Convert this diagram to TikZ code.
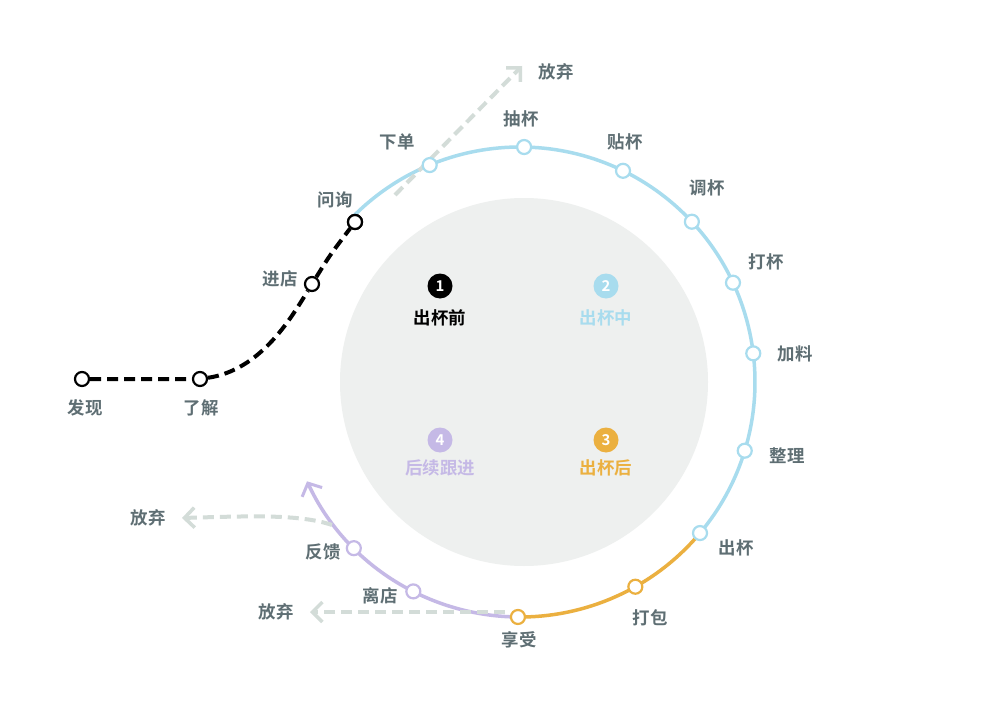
\documentclass[tikz,border=0pt]{standalone}
\usepackage{fontspec}
\setmainfont{Noto Sans CJK SC Bold}
\usetikzlibrary{arrows.meta}
\definecolor{cblue}{HTML}{A8DCEE}
\definecolor{corange}{HTML}{EBB040}
\definecolor{cpurple}{HTML}{C5B9E6}
\definecolor{cgray}{HTML}{D3DCD8}
\definecolor{cinner}{HTML}{EEF0EF}
\definecolor{ctext}{HTML}{5E6E73}
\begin{document}
\begin{tikzpicture}[x=1bp,y=-1bp,
  lbl/.style={text=ctext,font=\fontsize{17.5}{17.5}\selectfont,inner sep=1pt},
  stop/.style={circle,draw=#1,line width=2.2bp,fill=white,minimum size=14bp,inner sep=0pt},
  num/.style={circle,fill=#1,text=white,minimum size=25bp,inner sep=0pt,font=\fontsize{15}{15}\selectfont},
  quit/.style={cgray,line width=4bp,dash pattern=on 11bp off 6bp,-{Straight Barb[length=10bp,width=20bp,line width=3.5bp]}}]
\useasboundingbox (0,0) rectangle (1000,707);
\fill[white] (0,0) rectangle (1000,707);
\coordinate (C) at (520,382);
\fill[cinner] (524,382) circle (184);
% rings
\draw[cblue,line width=3.5bp] ([shift={(-136:235)}]C) arc[start angle=-136,end angle=40,radius=235];
\draw[corange,line width=3.5bp] ([shift={(40:235)}]C) arc[start angle=40,end angle=90,radius=235];
\draw[cpurple,line width=3.5bp,-{Straight Barb[length=10bp,width=22bp,line width=3bp]}] ([shift={(90:235)}]C) arc[start angle=90,end angle=155,radius=235];
% quit arrows
\coordinate (q1s) at (395,195); \coordinate (q1e) at (522,66);
\draw[quit] (q1s) -- (q1e);
\coordinate (q2s) at (332,525); \coordinate (q2e) at (182,518);
\draw[quit] (q2s) .. controls (300,514) and (250,516) .. (q2e);
\coordinate (q3s) at (505,612); \coordinate (q3e) at (310,612);
\draw[quit] (q3s) -- (q3e);
\node[lbl] at (556,72) {放弃};
\node[lbl] at (148,518) {放弃};
\node[lbl] at (276,612) {放弃};
% black path
\node[stop=black] (fx) at (82,379) {};
\node[stop=black] (lj) at (200,379) {};
\node[stop=black] (jd) at (312,284) {};
\node[stop=black] (wx) at (355,222) {};
\draw[black,line width=4bp,dash pattern=on 11bp off 6bp] (fx) -- (lj) .. controls (260,370) and (290,320) .. (jd) .. controls (330,255) .. (wx);
% ring stops
\foreach \n/\a in {xd/112.6,cb/89,tb/64,db/43,dab/25,jl/7,zl/-17,cbb/-40}
  \node[stop=cblue] (\n) at ([shift={(-\a:235)}]C) {};
\node[stop=corange] (db2) at ([shift={(60.6:235)}]C) {};
\node[stop=corange] (xs) at ([shift={(90.5:235)}]C) {};
\node[stop=cpurple] (ld) at ([shift={(117:235)}]C) {};
\node[stop=cpurple] (fk) at ([shift={(135:235)}]C) {};
\node[stop=black] at (wx) {};
% labels
\node[lbl] at (397,142) {下单};
\node[lbl] at (521,119) {抽杯};
\node[lbl] at (625,142) {贴杯};
\node[lbl] at (707,188) {调杯};
\node[lbl] at (766,262) {打杯};
\node[lbl] at (795,354) {加料};
\node[lbl] at (787,456) {整理};
\node[lbl] at (736,548) {出杯};
\node[lbl] at (650,618) {打包};
\node[lbl] at (519,640) {享受};
\node[lbl] at (380,596) {离店};
\node[lbl] at (323,552) {反馈};
\node[lbl] at (335,200) {问询};
\node[lbl] at (280,279) {进店};
\node[lbl] at (85,408) {发现};
\node[lbl] at (201,408) {了解};
% center
\node[num=black] at (440,286) {1};
\node[lbl,text=black] at (440,318) {出杯前};
\node[num=cblue] at (606,286) {2};
\node[lbl,text=cblue] at (606,318) {出杯中};
\node[num=corange] at (606,440) {3};
\node[lbl,text=corange] at (606,468) {出杯后};
\node[num=cpurple] at (440,440) {4};
\node[lbl,text=cpurple] at (440,468) {后续跟进};
\end{tikzpicture}
\end{document}
